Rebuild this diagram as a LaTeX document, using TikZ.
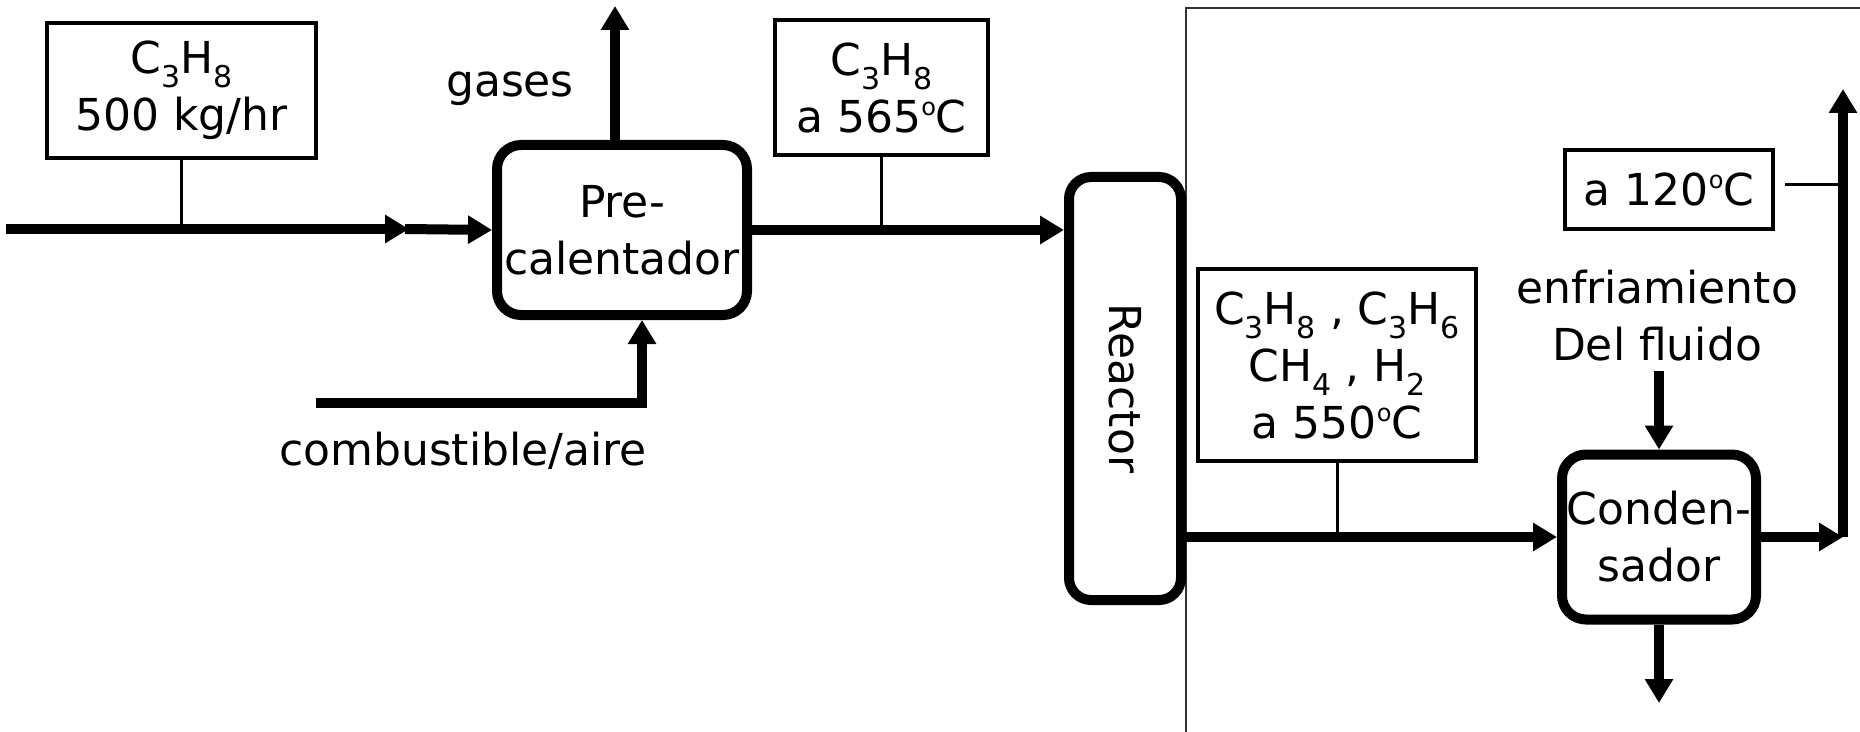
\documentclass[tikz,border=0pt]{standalone}
\usepackage{fontspec}
\setmainfont{DejaVu Sans}
\usetikzlibrary{arrows.meta}
\newcommand{\sbs}[1]{\raisebox{-0.32em}{\fontsize{30bp}{30bp}\selectfont #1}}
\newcommand{\dg}{\raisebox{0.38em}{\fontsize{24bp}{24bp}\selectfont o}}
\begin{document}
\begin{tikzpicture}[x=1bp,y=-1bp,
  every node/.style={font=\fontsize{44bp}{57bp}\selectfont, inner sep=0pt},
  lab/.style={draw, line width=4bp, align=center},
  unit/.style={draw, line width=10bp, rounded corners=24bp, align=center, fill=white},
  flow/.style={line width=10bp, -{Triangle[length=24bp,width=27bp]}},
  stem/.style={line width=3bp},
  frame/.style={line width=2bp, draw=black!80}]
\useasboundingbox (0,0) rectangle (1860,732);
% frame
\draw[frame] (1186,732) -- (1186,8) -- (1860,8);
% units
\node[unit, minimum width=250bp, minimum height=170bp] (prec) at (622,230) {Pre-\\calentador};
\node[unit, minimum width=112bp, minimum height=423bp, rounded corners=22bp] (rea) at (1125,388.5) {\rotatebox{-90}{Reactor}};
\node[unit, minimum width=194bp, minimum height=165bp] (cond) at (1659,537) {Conden-\\sador};
% label boxes
\node[lab, minimum width=269bp, minimum height=135bp] (b1) at (181.5,90.5) {C\sbs{3}H\sbs{8}\\500 kg/hr};
\node[lab, minimum width=213bp, minimum height=135bp] (b2) at (881.5,87.5) {C\sbs{3}H\sbs{8}\\a 565\dg C};
\node[lab, minimum width=278bp, minimum height=192bp] (b3) at (1337,365) {C\sbs{3}H\sbs{8} , C\sbs{3}H\sbs{6}\\CH\sbs{4} , H\sbs{2}\\a 550\dg C};
\node[lab, minimum width=208bp, minimum height=79bp] (b4) at (1669,189.5) {a 120\dg C};
% texts
\node (gases) at (510,89) {gases};
\node (comb) at (463,451) {combustible/aire};
\node[align=center] (cool) at (1657,316) {enfriamiento\\Del fluido};
% coordinates
\coordinate (feed) at (6,229);
\coordinate (mid) at (409,229);
\coordinate (gas) at (615,6);
\coordinate (cb) at (316,403);
\coordinate (cbx) at (642,403);
\coordinate (coolend) at (1659,371);
\coordinate (corner) at (1843,537);
\coordinate (outtop) at (1843,89);
\coordinate (liq) at (1659,703);
\coordinate (tap) at (1839,184);
% flows
\draw[flow] (feed) -- (mid);
\draw[flow] ([xshift=-4bp]mid) -- (prec.west);
\draw[flow] (prec.north -| gas) -- (gas);
\draw[flow] (cb) -- (cbx) -- (prec.south -| cbx);
\draw[flow] (prec.east) -- (prec.east -| rea.west);
\draw[flow] (rea.east |- cond.west) -- (cond.west);
\draw[flow] (coolend) -- (cond.north);
\draw[flow] (cond.east) -- (corner);
\draw[flow] (corner) -- (outtop);
\draw[flow] (cond.south) -- (liq);
% stems
\draw[stem] (b1.south) -- (b1.south |- feed);
\draw[stem] (b2.south) -- (b2.south |- feed);
\draw[stem] (b3.south) -- (b3.south |- cond.west);
\draw[stem] ([xshift=10bp]b4.east |- tap) -- (tap);
\end{tikzpicture}
\end{document}
